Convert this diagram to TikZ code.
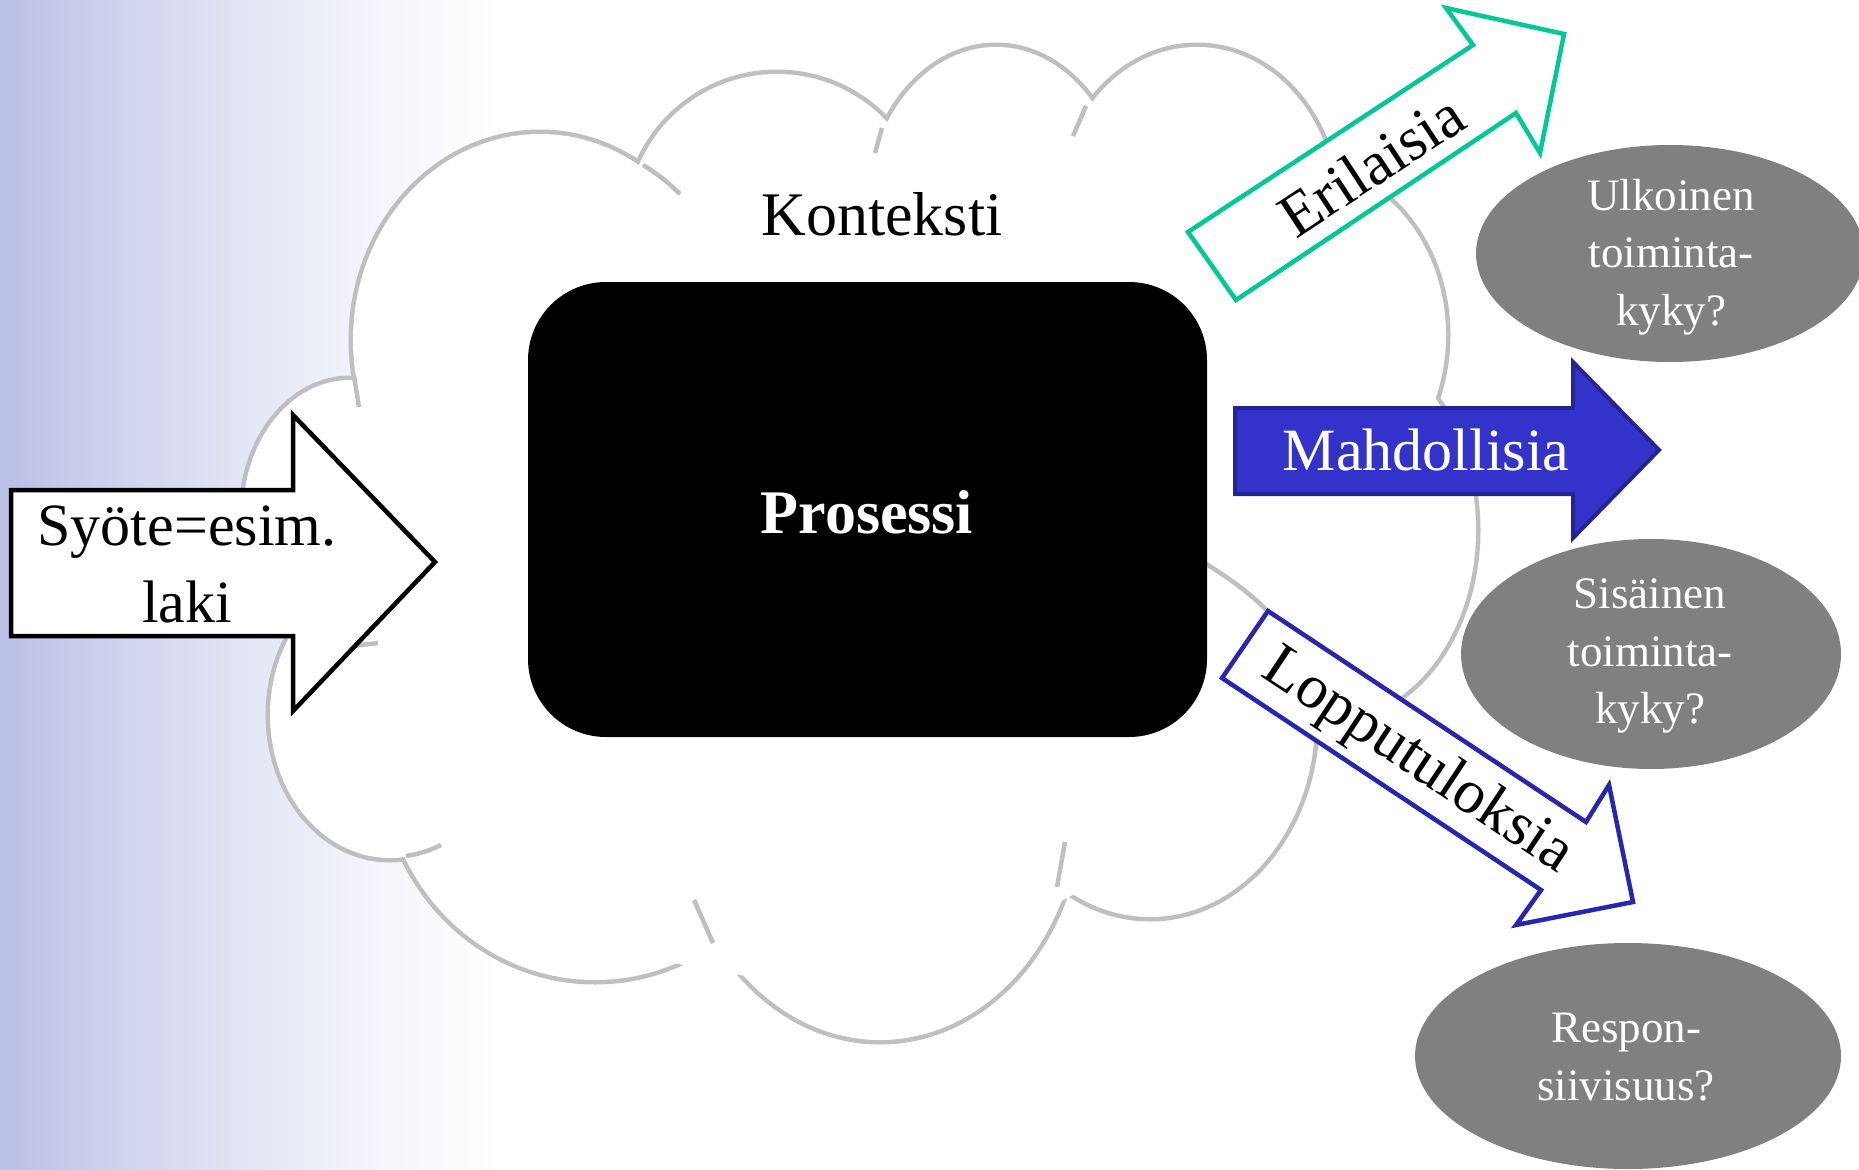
\documentclass[tikz,border=0pt]{standalone}
\usepackage{fontspec}
\setmainfont{Liberation Serif}
\usetikzlibrary{shapes.geometric}
\definecolor{bgblue}{RGB}{186,192,230}
\definecolor{bgbtwo}{RGB}{208,212,238}
\definecolor{bgbthree}{RGB}{228,230,245}
\definecolor{bgbfour}{RGB}{244,245,251}
\definecolor{cloudgray}{RGB}{191,191,191}
\definecolor{arrowgreen}{RGB}{0,200,150}
\definecolor{arrowblue}{RGB}{38,38,178}
\definecolor{mahfill}{RGB}{51,51,204}
\definecolor{mahdraw}{RGB}{36,36,150}
\definecolor{ovalgray}{RGB}{128,128,128}
\pgfdeclarehorizontalshading{bgfade}{100bp}{color(0bp)=(bgblue); color(25bp)=(bgblue); color(37.5bp)=(bgbtwo); color(50bp)=(bgbthree); color(62.5bp)=(bgbfour); color(75bp)=(white); color(100bp)=(white)}
\begin{document}
\begin{tikzpicture}[x=1pt,y=-1pt,
  cloudline/.style={draw=cloudgray, line width=9},
  innerbit/.style={draw=cloudgray, line width=4.5},
  inarrow/.style={fill=white, draw=black, line width=4.5, line join=miter},
  greenarrow/.style={fill=white, draw=arrowgreen, line width=4.5, line join=miter},
  bluearrow/.style={fill=white, draw=arrowblue, line width=4.5, line join=miter},
  mahdarrow/.style={fill=mahfill, draw=mahdraw, line width=4, line join=miter},
  bigtxt/.style={font=\fontsize{60}{72}\selectfont, inner sep=0},
  rottxt/.style={font=\fontsize{62}{72}\selectfont, inner sep=0},
  ovalshape/.style={ellipse, fill=ovalgray, draw=none, inner sep=0},
  ovaltxt/.style={font=\fontsize{45}{57.5}\selectfont, text=white, align=center, inner sep=0}
]
\useasboundingbox (0,0) rectangle (1859,1169);
% background
\fill[white] (0,0) rectangle (1859,1169);
\shade[shading=bgfade] (0,0) rectangle (500,1169);

% cloud: outlines of lobes, then white fill
\foreach \cx/\cy/\rx/\ry in {540/340/187/206, 777/224/150/150, 996/214/130/167,
  1197/211/140/164, 1300/335/146/170, 1330/530/146/190, 1150/720/165/197,
  880/800/200/240, 595/760/212/220, 390/715/120/143, 350/515/107/135}
  \draw[cloudline] (\cx,\cy) ellipse[x radius=\rx, y radius=\ry];
\foreach \cx/\cy/\rx/\ry in {540/340/187/206, 777/224/150/150, 996/214/130/167,
  1197/211/140/164, 1300/335/146/170, 1330/530/146/190, 1150/720/165/197,
  880/800/200/240, 595/760/212/220, 390/715/120/143, 350/515/107/135}
  \fill[white] (\cx,\cy) ellipse[x radius=\rx, y radius=\ry];
\fill[white] (380,420) -- (600,200) -- (1000,180) -- (1300,250) -- (1420,450)
  -- (1300,700) -- (1100,880) -- (880,1000) -- (600,950) -- (420,840) -- (300,650) -- cycle;
% inner arcs of the cloud
\draw[innerbit] (354,376) -- (359,407);
\draw[innerbit] (643,165) to[bend left=6] (680,194);
\draw[innerbit] (882,128) -- (875,153);
\draw[innerbit] (1086,106) -- (1073,136);
\draw[innerbit] (1057,887) -- (1065,842);
\draw[innerbit] (713,943) -- (694,900);
\draw[innerbit] (406,856) to[bend right=8] (441,845);
\draw[innerbit] (353,646) -- (378,643);
\draw[innerbit] (1203,562) to[bend left=10] (1300,648);

% process box
\node[fill=black, rounded corners=78, minimum width=679, minimum height=455, inner sep=0] (proc) at (867.5,509.5) {};
\node[font=\bfseries\fontsize{62}{72}\selectfont, text=white, anchor=base, inner sep=0] (proctext) at (867,533) {Prosessi};
\node[font=\fontsize{62}{72}\selectfont, anchor=base, inner sep=0] (kont) at (882,235) {Konteksti};

% input arrow
\draw[inarrow] (11,490) -- (293,490) -- (293,415) -- (435,562) -- (293,711) -- (293,636) -- (11,636) -- cycle;
\node[bigtxt, anchor=base] (syote1) at (187,545) {Syöte=esim.};
\node[bigtxt, anchor=base] (syote2) at (187,622) {laki};

% Mahdollisia arrow
\draw[mahdarrow] (1235,408) -- (1573,408) -- (1573,362) -- (1659,450) -- (1573,538) -- (1573,494) -- (1235,494) -- cycle;
\node[bigtxt, anchor=base, text=white] (mahd) at (1426,470) {Mahdollisia};

% Erilaisia arrow
\draw[greenarrow] (1236,300) -- (1188,232) -- (1473,45) -- (1446,8) -- (1564,34) -- (1540,153) -- (1516,113) -- cycle;
\node[rottxt, rotate=33.3] (eril) at (1371,165) {Erilaisia};

% Lopputuloksia arrow
\draw[bluearrow] (1268,611) -- (1586,822) -- (1609,785) -- (1633,902) -- (1516,925) -- (1541,890) -- (1222,678) -- cycle;
\node[rottxt, rotate=-33.6] (loppu) at (1417,762) {Lopputuloksia};

% result ovals
\node[ovalshape, minimum width=388, minimum height=217] (e1) at (1670,253.5) {};
\node[ovaltxt] (e1t) at (1671,257) {Ulkoinen\\toiminta-\\kyky?};
\node[ovalshape, minimum width=380, minimum height=230] (e2) at (1651,654) {};
\node[ovaltxt] (e2t) at (1650,656) {Sisäinen\\toiminta-\\kyky?};
\node[ovalshape, minimum width=426, minimum height=226] (e3) at (1628,1056) {};
\node[ovaltxt] (e3t) at (1626,1057) {Respon-\\siivisuus?};
\end{tikzpicture}
\end{document}
